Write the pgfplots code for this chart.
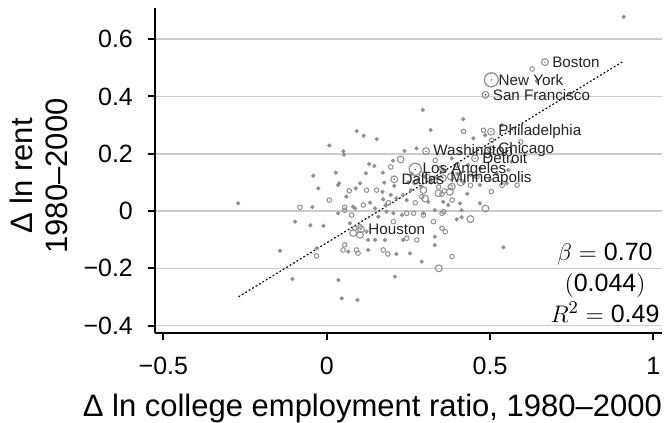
\documentclass[border=0pt]{standalone}
\usepackage{fontspec}
\setmainfont{Liberation Sans}
\usepackage{pgfplots}
\pgfplotsset{compat=1.18}
\definecolor{mk}{RGB}{145,145,145}
\definecolor{gridc}{RGB}{200,204,208}
\definecolor{lab}{RGB}{35,35,35}
\begin{document}
\begin{tikzpicture}
\useasboundingbox (-77.5pt,-44.35pt) rectangle (256pt,166.65pt);
\begin{axis}[
  at={(0,0)}, anchor=south west,
  scale only axis, width=253.35pt, height=162.5pt,
  xmin=-0.5256, xmax=1.0255, ymin=-0.427, ymax=0.708,
  axis lines=left, axis line style={-, line width=1pt, black},
  tick align=outside, major tick length=3.35pt, tick style={line width=1pt, black},
  xtick={-0.5,0,0.5,1}, xticklabels={−0.5,0,0.5,1},
  ytick={-0.4,-0.2,0,0.2,0.4,0.6}, yticklabels={−0.4,−0.2,0,0.2,0.4,0.6},
  ymajorgrids, grid style={gridc, line width=0.75pt},
  ticklabel style={font=\fontsize{12.5}{14}\selectfont, inner sep=0pt},
  xticklabel style={anchor=north, yshift=-8.35pt},
  yticklabel style={anchor=east, xshift=-7.5pt},
  xlabel={Δ ln college employment ratio, 1980--2000},
  xlabel style={at={(axis description cs:0.429,0)}, anchor=base, inner sep=0pt, yshift=-41.7pt, font=\fontsize{15.5}{17.5}\selectfont},
  ylabel={Δ ln rent\\1980--2000},
  ylabel style={at={(axis description cs:-0.1717,0.484)}, anchor=south, inner sep=0pt, align=center, font=\fontsize{15.5}{17.5}\selectfont},
  clip=false,
]
% small filled dots
\addplot[color=mk, fill=mk, only marks, mark=*, mark size=0.85pt, mark options={solid, draw=mk, fill=mk}] coordinates {
(-0.271,0.027) (-0.041,0.123) (-0.026,0.079) (-0.044,0.014) (-0.097,-0.037) (-0.05,-0.05)
(-0.01,-0.052) (0.008,0.229) (-0.143,-0.139) (-0.105,-0.237) (-0.031,-0.13) (0.092,0.279)
(0.113,0.263) (0.153,0.251) (0.318,0.283) (0.294,0.353) (0.418,0.321) (0.051,0.209)
(0.053,0.197) (0.238,0.21) (0.275,0.219) (0.203,0.176) (0.13,0.164) (0.146,0.157)
(0.028,0.134) (0.172,0.134) (0.038,0.097) (0.089,0.079) (0.102,0.097) (0.176,0.099)
(0.171,0.067) (0.196,0.056) (0.207,0.088) (0.213,0.044) (0.258,0.073) (0.291,0.085)
(0.081,0.015) (0.133,0.029) (0.148,0.009) (0.173,0.041) (0.234,0.056) (0.245,0.038)
(0.337,0.114) (0.357,0.032) (0.311,0.032) (0.087,0.009) (0.035,-0.008) (0.071,-0.043)
(0.122,-0.072) (0.148,-0.101) (0.127,-0.101) (0.178,-0.101) (0.158,-0.02) (0.183,-0.002)
(0.204,-0.008) (0.23,-0.014) (0.331,-0.09) (0.234,-0.101) (0.066,-0.142) (0.127,-0.136)
(0.213,-0.15) (0.255,-0.148) (0.291,-0.177) (0.036,-0.241) (0.209,-0.229) (0.046,-0.305)
(0.094,-0.311) (0.449,0.254) (0.485,0.265) (0.536,0.3) (0.408,0.207) (0.383,0.184)
(0.433,0.161) (0.566,0.172) (0.556,0.143) (0.551,0.097) (0.469,0.091) (0.408,0.027)
(0.469,0.027) (0.413,0.003) (0.372,0.021) (0.413,-0.022) (0.398,-0.029) (0.331,-0.119)
(0.541,-0.127) (0.643,0.454) (0.909,0.678) (0.296,-0.008) (0.331,0.003) (0.035,0.091)
(0.12,0.132) (0.30,0.12) (0.32,0.10) (0.36,0.14) (0.40,0.13) (0.42,0.10) (0.45,0.12)
(0.47,0.15) (0.28,0.11) (0.26,0.13) (0.52,0.13) (0.50,0.11) (0.43,0.06) (0.25,0.10)
(0.18,0.02) (0.06,0.05)
};
% small circles
\addplot[color=mk, only marks, mark=o, mark size=1.15pt, mark options={draw=mk, line width=0.5pt}] coordinates {
(-0.082,0.013) (0.008,0.038) (0.069,0.071) (0.055,0.013) (0.112,0.021) (0.189,0.029)
(0.122,0.073) (0.153,0.073) (0.332,0.177) (0.378,0.084) (0.384,0.038) (-0.031,-0.157)
(0.055,0.003) (0.076,-0.014) (0.086,-0.06) (0.102,-0.054) (0.204,-0.037) (0.245,-0.008)
(0.266,-0.008) (0.271,0.029) (0.296,-0.014) (0.327,-0.037) (0.353,-0.06) (0.363,-0.072)
(0.353,-0.008) (0.245,-0.095) (0.276,-0.101) (0.055,-0.118) (0.05,-0.136) (0.091,-0.136)
(0.096,-0.147) (0.173,-0.136) (0.187,-0.15) (0.384,-0.159) (0.419,0.278) (0.48,0.282)
(0.505,0.247) (0.594,0.241) (0.537,0.09) (0.583,0.09) (0.504,0.068) (0.629,0.496)
(0.343,0.084) (0.353,0.059) (0.291,0.05) (0.196,0.154) (0.358,-0.002) (0.31,0.12)
(0.35,0.15) (0.44,0.13) (0.40,0.16) (0.44,0.09) (0.46,0.12) (0.36,0.07) (0.29,0.13)
(0.27,0.10)
};
% medium circles
\addplot[color=mk, only marks, mark=o, mark size=1.7pt, mark options={draw=mk, line width=0.55pt}] coordinates {
(0.226,0.18) (0.081,-0.077) (0.102,-0.083) (0.296,0.073) (0.342,0.062) (0.377,0.067)
(0.301,0.044) (0.383,0.085) (0.343,-0.2) (0.486,0.009) (0.44,-0.028) (0.38,0.12)
(0.41,0.10) (0.33,0.11)
(0.668,0.52) (0.486,0.406) (0.503,0.277) (0.304,0.209) (0.503,0.215) (0.454,0.184)
(0.207,0.111) (0.356,0.115) (0.105,-0.064)
};
% large circles (New York, Los Angeles)
\addplot[color=mk, only marks, mark=o, mark size=3.5pt, mark options={draw=mk, line width=0.65pt}] coordinates {
(0.504,0.458)
};
\addplot[color=mk, only marks, mark=o, mark size=3pt, mark options={draw=mk, line width=0.65pt}] coordinates {
(0.271,0.146)
};
% fitted line
\addplot[black, line width=0.6pt, dash pattern=on 0.6pt off 1.4pt, line cap=round] coordinates {
(-0.269,-0.299) (0.908,0.523)
};
% city labels
\addplot[only marks, mark=*, mark size=0.01pt, mark options={draw=none, fill=none},
  nodes near coords, point meta=explicit symbolic,
  every node near coord/.append style={anchor=west, inner sep=0pt, xshift=3.5pt,
  font=\fontsize{7.6}{9}\selectfont, text=lab}] coordinates {
(0.668,0.52) [Boston]
(0.504,0.458) [New York]
(0.486,0.406) [San Francisco]
(0.503,0.277) [Philadelphia]
(0.304,0.209) [Washington]
(0.503,0.215) [Chicago]
(0.454,0.184) [Detroit]
(0.271,0.146) [Los Angeles]
(0.207,0.111) [Dallas]
(0.356,0.115) [Minneapolis]
(0.105,-0.064) [Houston]
};
\node[align=center, font=\fontsize{12.5}{15.4}\selectfont, inner sep=0pt] at (axis cs:0.852,-0.25)
  {$\beta=$ 0.70\\$($0.044$)$\\$R^2=$ 0.49};
\end{axis}
\end{tikzpicture}
\end{document}
